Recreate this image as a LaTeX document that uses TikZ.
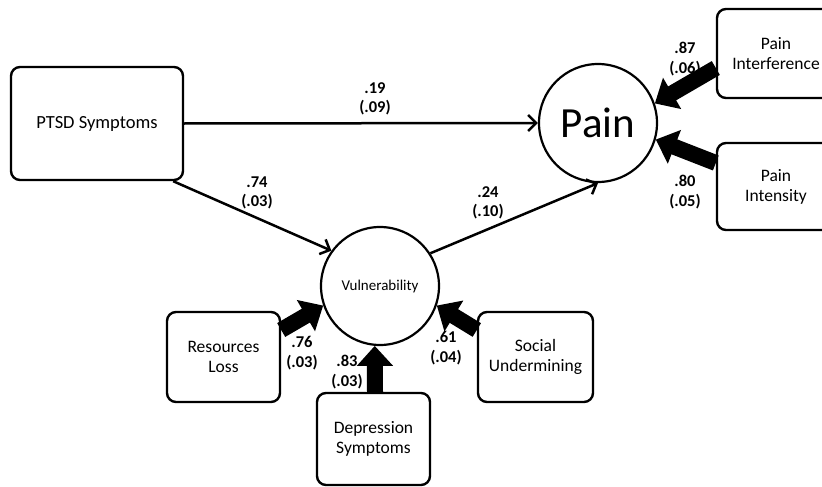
\documentclass[tikz,border=0pt]{standalone}
\usepackage{fontspec}
\setmainfont{Carlito}
\usetikzlibrary{arrows.meta}
\begin{document}
\begin{tikzpicture}[x=1pt,y=-1pt,
  box/.style={draw,line width=2.4pt,rounded corners=9pt,align=center,
    font=\fontsize{17.5}{20}\selectfont,inner sep=0pt},
  lat/.style={draw,circle,line width=2.2pt,inner sep=0pt,minimum size=118pt},
  pathedge/.style={line width=2.5pt,-{Straight Barb[length=8pt,width=16pt,line width=2.5pt]}},
  loadedge/.style={line width=16pt,-{Triangle[length=20pt,width=35pt]}},
  coef/.style={font=\bfseries\fontsize{16.5}{19.5}\selectfont,align=center,inner sep=0pt}]
\useasboundingbox (0,0) rectangle (822,487);
\clip (0,0) rectangle (822,487);
% nodes
\node[box,minimum width=172pt,minimum height=113pt,font=\fontsize{18.5}{21}\selectfont] (ptsd) at (97,123.5) {PTSD Symptoms};
\node[lat,font=\fontsize{43}{48}\selectfont] (pain) at (598,123) {Pain};
\node[lat,font=\fontsize{15}{18}\selectfont] (vuln) at (380,286) {Vulnerability};
\node[box,minimum width=118pt,minimum height=89pt] (intf) at (776,53.5) {Pain\\Interference};
\node[box,minimum width=118pt,minimum height=87pt] (intens) at (776,186.5) {Pain\\Intensity};
\node[box,minimum width=113pt,minimum height=90pt] (res) at (223.5,357) {Resources\\Loss};
\node[box,minimum width=113pt,minimum height=92pt] (dep) at (373.5,439) {Depression\\Symptoms};
\node[box,minimum width=115pt,minimum height=90pt] (soc) at (535.5,357) {Social\\Undermining};
% structural paths
\draw[pathedge] (ptsd.east) -- (pain.west);
\draw[pathedge] ([xshift=-11pt]ptsd.south east) -- (vuln.144);
\draw[pathedge] (vuln.33) -- (pain.south);
% loadings
\draw[loadedge] ([yshift=-14.5pt]intf.west) -- (pain.19);
\draw[loadedge] ([yshift=23.5pt]intens.west) -- (pain.-16);
\draw[loadedge] ([yshift=27pt]res.east) -- (vuln.199);
\draw[loadedge] ([xshift=1.5pt]dep.north) -- (vuln.265);
\draw[loadedge] ([yshift=27pt]soc.west) -- (vuln.-19);
% coefficients
\node[coef] (c1) at (375,99) {.19\\(.09)};
\node[coef] (c2) at (257,193) {.74\\(.03)};
\node[coef] (c3) at (488,203) {.24\\(.10)};
\node[coef] (c4) at (685,59) {.87\\(.06)};
\node[coef] (c5) at (685,192) {.80\\(.05)};
\node[coef] (c6) at (302,353) {.76\\(.03)};
\node[coef] (c7) at (347,372) {.83\\(.03)};
\node[coef] (c8) at (446,348) {.61\\(.04)};
\end{tikzpicture}
\end{document}
